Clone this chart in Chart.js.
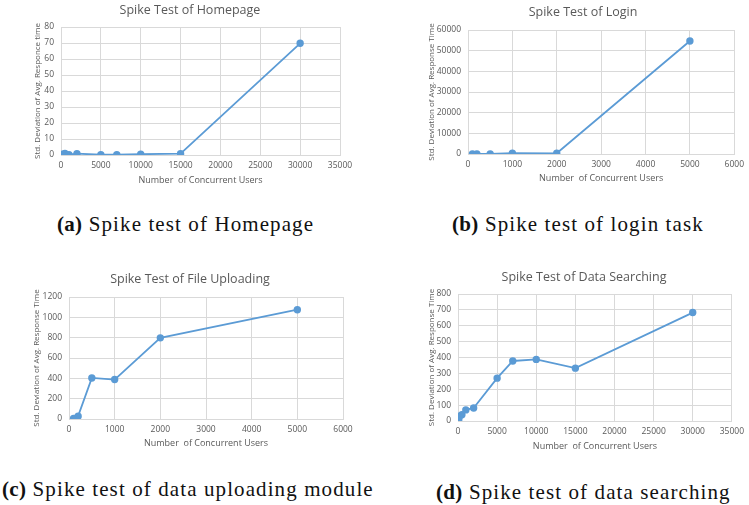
<!DOCTYPE html>
<html>
<head>
<meta charset="utf-8">
<script src="https://cdn.jsdelivr.net/npm/chart.js@4.4.1/dist/chart.umd.min.js"></script>
<style>
  body { margin: 0; background: #fff; }
  #fig { position: relative; width: 749px; height: 505px; overflow: hidden; }
  .panel { position: absolute; }
  .ttl { position: absolute; font-family: 'Open Sans', sans-serif; font-size: 12.5px; color: #595959;
         transform: translate(-50%, -50%); white-space: nowrap; }
  .cap { position: absolute; font-family: 'Liberation Serif', serif; font-size: 21px; color: #111;
         white-space: nowrap; transform: translateY(-50%); letter-spacing: 1.1px; }
  .cap b { letter-spacing: 0.3px; }
</style>
</head>
<body>
<div id="fig">
  <canvas id="chA" class="panel" style="left:0;top:0"></canvas>
  <canvas id="chB" class="panel" style="left:375px;top:0"></canvas>
  <canvas id="chC" class="panel" style="left:0;top:255px"></canvas>
  <canvas id="chD" class="panel" style="left:375px;top:255px"></canvas>

  <div class="ttl" style="left:190px;top:9px">Spike Test of Homepage</div>
  <div class="ttl" style="left:583px;top:11px">Spike Test of Login</div>
  <div class="ttl" style="left:190px;top:278px">Spike Test of File Uploading</div>
  <div class="ttl" style="left:584px;top:276px">Spike Test of Data Searching</div>

  <div class="cap" style="left:57px;top:224px"><b>(a)</b> Spike test of Homepage</div>
  <div class="cap" style="left:452px;top:224px"><b>(b)</b> Spike test of login task</div>
  <div class="cap" style="left:2px;top:489px"><b>(c)</b> Spike test of data uploading module</div>
  <div class="cap" style="left:436px;top:492px"><b>(d)</b> Spike test of data searching</div>
</div>
<script>
const homeUsers = [100, 200, 500, 1000, 2000, 5000, 7000, 10000, 15000, 30000];
const homeStd = [0.2, 0.5, 0.9, 0.2, 0.8, 0.2, 0.2, 0.5, 0.8, 69.8];

const loginUsers = [100, 200, 500, 1000, 2000, 5000];
const loginStd = [30, 40, 80, 400, 350, 54700];

const uploadUsers = [100, 200, 500, 1000, 2000, 5000];
const uploadStd = [5, 28, 404, 388, 798, 1075];

const searchUsers = [100, 200, 500, 1000, 2000, 5000, 7000, 10000, 15000, 30000];
const searchStd = [10, 30, 40, 70, 82, 270, 378, 388, 333, 683];

const xTitle = 'Number  of Concurrent Users';
const blue = '#5b9bd5';
const gridCol = '#d9d9d9';
const txtCol = '#595959';

function makeChart(id, w, h, users, vals, o) {
    const cv = document.getElementById(id);
    cv.width = w; cv.height = h;
    cv.style.width = w + 'px'; cv.style.height = h + 'px';
    const pts = users.map((u, i) => ({ x: u, y: vals[i] }));
    return new Chart(cv, {
        type: 'scatter',
        data: { datasets: [{ data: pts, showLine: true, borderColor: blue, backgroundColor: blue,
            borderWidth: 1.8, pointRadius: 2.8, pointHoverRadius: 2.8, tension: 0 }] },
        options: {
            responsive: false, animation: false,
            layout: { padding: { left: 0, top: o.top, right: w - o.right, bottom: 0 } },
            plugins: { legend: { display: false }, tooltip: { enabled: false } },
            scales: {
                x: {
                    type: 'linear', min: 0, max: o.xMax,
                    afterFit: s => { s.height = h - o.bottom; },
                    ticks: { stepSize: o.xStep, color: txtCol, padding: 5, maxRotation: 0,
                        font: { family: 'Open Sans', size: 8.5 }, callback: v => String(v) },
                    grid: { color: gridCol, drawTicks: false },
                    border: { color: gridCol },
                    title: { display: true, text: xTitle, color: txtCol,
                        font: { family: 'Open Sans', size: 9 }, padding: { top: 0, bottom: o.xtPad } }
                },
                y: {
                    min: 0, max: o.yMax,
                    afterFit: s => { s.width = o.left; },
                    ticks: { stepSize: o.yStep, color: txtCol, padding: 7,
                        font: { family: 'Open Sans', size: 8.5 }, callback: v => String(v) },
                    grid: { color: gridCol, drawTicks: false },
                    border: { color: gridCol },
                    title: { display: true, text: o.yTitle, color: txtCol,
                        font: { family: 'Open Sans', size: 8 }, padding: { top: o.ytPad, bottom: 0 } }
                }
            }
        }
    });
}

makeChart('chA', 375, 200, homeUsers, homeStd, { left: 61, right: 340, top: 27, bottom: 155,
    xMax: 35000, xStep: 5000, yMax: 80, yStep: 10, xtPad: 14, ytPad: 33,
    yTitle: 'Std. Deviation of Avg. Responce time' });

makeChart('chB', 374, 200, loginUsers, loginStd, { left: 93, right: 362, top: 30, bottom: 154,
    xMax: 6000, xStep: 1000, yMax: 60000, yStep: 10000, xtPad: 16, ytPad: 52,
    yTitle: 'Std. Deviation of Avg. Response Time' });

makeChart('chC', 375, 200, uploadUsers, uploadStd, { left: 69, right: 343, top: 42, bottom: 164,
    xMax: 6000, xStep: 1000, yMax: 1200, yStep: 200, xtPad: 6, ytPad: 32,
    yTitle: 'Std. Deviation of Avg. Response Time' });

makeChart('chD', 374, 200, searchUsers, searchStd, { left: 83, right: 360, top: 39, bottom: 166,
    xMax: 35000, xStep: 5000, yMax: 800, yStep: 100, xtPad: 3, ytPad: 52,
    yTitle: 'Std. Deviation of Avg. Response Time' });
</script>
</body>
</html>
